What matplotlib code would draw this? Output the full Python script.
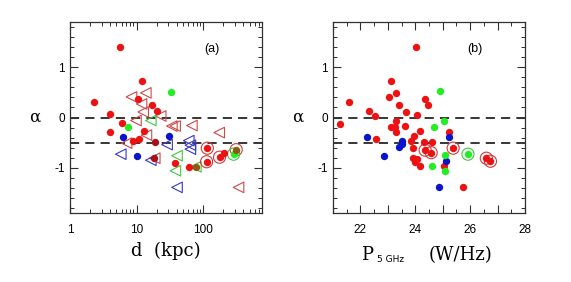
import matplotlib
matplotlib.use("Agg")
import matplotlib.pyplot as plt
from matplotlib.ticker import FixedLocator, MultipleLocator, LogLocator, NullFormatter, FuncFormatter

# ---------------- Panel (a): alpha vs d (kpc) ----------------
a_red_d = [5.6, 12.1, 2.29, 10.4, 16.8, 20.0, 3.98, 6.0, 4.0, 12.9, 8.9, 11.0, 38.4, 61.6, 116, 113, 177, 206]
a_red_alpha = [1.41, 0.73, 0.31, 0.36, 0.25, 0.12, 0.06, -0.11, -0.29, -0.27, -0.47, -0.43, -0.91, -0.98, -0.61, -0.88, -0.79, -0.71]
a_dark_d = [18.8, 18.3]
a_dark_alpha = [-0.49, -0.81]
a_olive_d = [79, 315]
a_olive_alpha = [-0.98, -0.64]
a_green_d = [7.5, 32.7, 288]
a_green_alpha = [-0.19, 0.51, -0.73]
a_blue_d = [6.2, 10.0, 30.5]
a_blue_alpha = [-0.38, -0.77, -0.37]
a_ringred_d = [116, 113, 177, 315]
a_ringred_alpha = [-0.61, -0.88, -0.79, -0.64]
a_ringgreen_d = [288]
a_ringgreen_alpha = [-0.73]
a_tri_red_d = [8.4, 13.8, 11.9, 12.6, 23.1, 9.8, 14.1, 7.1, 18.8, 34, 38, 68, 175, 342]
a_tri_red_alpha = [0.41, 0.49, 0.27, 0.11, 0.03, -0.06, -0.35, -0.51, -0.81, -0.17, -0.17, -0.16, -0.30, -1.39]
a_tri_blue_d = [5.8, 16.4, 28.8, 61, 64.5, 64.5, 40.6]
a_tri_blue_alpha = [-0.73, -0.85, -0.54, -0.46, -0.55, -0.63, -1.39]
a_tri_green_d = [16.4, 40.6, 38.4, 78]
a_tri_green_alpha = [-0.06, -0.76, -1.06, -0.98]

# ---------------- Panel (b): alpha vs log P5GHz ----------------
b_red_p = [24.02, 23.13, 23.31, 23.04, 24.36, 21.57, 24.45, 23.40, 22.31, 23.65, 22.52, 24.05, 21.27,
           23.28, 23.10, 23.26, 23.64, 23.31, 24.19, 22.55, 23.96, 23.84, 24.33, 24.61, 25.24, 23.90,
           24.36, 24.58, 25.38, 26.59, 26.74, 23.93, 24.05, 23.99, 24.19, 25.03, 25.73]
b_red_alpha = [1.41, 0.73, 0.49, 0.40, 0.37, 0.31, 0.24, 0.25, 0.12, 0.11, 0.02, 0.05, -0.13,
               -0.06, -0.19, -0.19, -0.17, -0.29, -0.27, -0.43, -0.37, -0.46, -0.48, -0.49, -0.29, -0.61,
               -0.65, -0.70, -0.61, -0.81, -0.87, -0.81, -0.83, -0.89, -0.96, -0.97, -1.39]
b_blue_p = [22.25, 22.85, 23.50, 23.50, 23.40, 25.24, 25.12, 24.85]
b_blue_alpha = [-0.38, -0.77, -0.46, -0.53, -0.59, -0.38, -0.86, -1.39]
b_green_p = [24.91, 25.03, 24.67, 25.10, 24.61, 25.07, 25.92]
b_green_alpha = [0.52, -0.06, -0.18, -0.74, -0.97, -1.06, -0.73]
b_ringred_p = [24.36, 24.58, 25.38, 26.59, 26.74]
b_ringred_alpha = [-0.65, -0.70, -0.61, -0.81, -0.87]
b_ringgreen_p = [25.92]
b_ringgreen_alpha = [-0.73]

RED = "#ee1111"
DARK = "#a8101c"
OLIVE = "#8c5a12"
GREEN = "#22ee22"
BLUE = "#0a14cc"
TRI_RED = "#d04848"
TRI_BLUE = "#3838c8"
TRI_GREEN = "#40c840"
RING_RED = "#d03a3a"
RING_GREEN = "#40c840"

S_DOT = 28
S_TRI = 58
S_RING = 76

plt.rcParams["font.family"] = ["Liberation Sans", "DejaVu Sans"]

fig = plt.figure(figsize=(5.71, 2.82), dpi=100)
axa = fig.add_axes([70/571, 1-213/282, 192/571, 191/282])
axb = fig.add_axes([333/571, 1-213/282, 192/571, 191/282])

def style(ax):
    for s in ax.spines.values():
        s.set_color("#303030")
        s.set_linewidth(0.9)
    ax.tick_params(which="both", direction="in", top=True, right=True, colors="#303030",
                   labelcolor="black", labelsize=8.5)
    ax.tick_params(which="major", length=5.5, width=0.8)
    ax.tick_params(which="minor", length=3, width=0.7)
    ax.set_ylim(-1.9, 1.9)
    ax.yaxis.set_major_locator(FixedLocator([-1, 0, 1]))
    ax.yaxis.set_minor_locator(MultipleLocator(0.2))
    ax.yaxis.set_major_formatter(FuncFormatter(lambda v, p: "%d" % v))
    for yv in (0, -0.5):
        ax.axhline(yv, color="black", lw=1.1, dashes=(6, 4), zorder=1)
    ax.set_ylabel("α", family="DejaVu Serif", fontsize=12, rotation=0, labelpad=14, va="center")

# Panel a
axa.set_xscale("log")
axa.set_xlim(1, 770)
style(axa)
axa.xaxis.set_major_locator(FixedLocator([1, 10, 100]))
axa.xaxis.set_minor_locator(LogLocator(base=10, subs=range(2, 10)))
axa.xaxis.set_minor_formatter(NullFormatter())
axa.xaxis.set_major_formatter(FuncFormatter(lambda v, p: "%d" % v))
axa.tick_params(axis="x", pad=8)

axa.scatter(a_tri_red_d, a_tri_red_alpha, marker="<", s=S_TRI, facecolors="none", edgecolors=TRI_RED, linewidths=0.8, zorder=2)
axa.scatter(a_tri_blue_d, a_tri_blue_alpha, marker="<", s=S_TRI, facecolors="none", edgecolors=TRI_BLUE, linewidths=0.8, zorder=2)
axa.scatter(a_tri_green_d, a_tri_green_alpha, marker="<", s=S_TRI, facecolors="none", edgecolors=TRI_GREEN, linewidths=0.8, zorder=2)
axa.scatter(a_ringred_d, a_ringred_alpha, marker="o", s=S_RING, facecolors="none", edgecolors=RING_RED, linewidths=0.8, zorder=3)
axa.scatter(a_ringgreen_d, a_ringgreen_alpha, marker="o", s=S_RING, facecolors="none", edgecolors=RING_GREEN, linewidths=0.8, zorder=3)
axa.scatter(a_red_d, a_red_alpha, marker="o", s=S_DOT, color=RED, linewidths=0, zorder=4)
axa.scatter(a_dark_d, a_dark_alpha, marker="o", s=S_DOT, color=DARK, linewidths=0, zorder=4)
axa.scatter(a_blue_d, a_blue_alpha, marker="o", s=S_DOT, color=BLUE, linewidths=0, zorder=4)
axa.scatter(a_green_d, a_green_alpha, marker="o", s=S_DOT, color=GREEN, linewidths=0, zorder=4)
axa.scatter(a_olive_d, a_olive_alpha, marker="o", s=S_DOT, color=OLIVE, linewidths=0, zorder=5)
axa.text(0.74, 0.86, "(a)", transform=axa.transAxes, fontsize=9, ha="center", va="center")
axa.set_xlabel("d  (kpc)", family="DejaVu Serif", fontsize=13, labelpad=4)

# Panel b
axb.set_xlim(21, 28)
style(axb)
axb.xaxis.set_major_locator(MultipleLocator(1))
axb.xaxis.set_minor_locator(MultipleLocator(0.5))
axb.xaxis.set_major_formatter(FuncFormatter(lambda v, p: "%d" % v if int(round(v)) % 2 == 0 else ""))
axb.tick_params(axis="x", pad=8)

axb.scatter(b_ringred_p, b_ringred_alpha, marker="o", s=S_RING, facecolors="none", edgecolors=RING_RED, linewidths=0.8, zorder=3)
axb.scatter(b_ringgreen_p, b_ringgreen_alpha, marker="o", s=S_RING, facecolors="none", edgecolors=RING_GREEN, linewidths=0.8, zorder=3)
axb.scatter(b_red_p, b_red_alpha, marker="o", s=S_DOT, color=RED, linewidths=0, zorder=4)
axb.scatter(b_blue_p, b_blue_alpha, marker="o", s=S_DOT, color=BLUE, linewidths=0, zorder=4)
axb.scatter(b_green_p, b_green_alpha, marker="o", s=S_DOT, color=GREEN, linewidths=0, zorder=4)
axb.text(0.74, 0.86, "(b)", transform=axb.transAxes, fontsize=9, ha="center", va="center")

# x label of panel b: P_{5 GHz} (W/Hz)
fig.text(361/571, 1-255/282, "P", family="DejaVu Serif", fontsize=13, ha="left", va="center")
fig.text(377/571, 1-260/282, "5 GHz", family="DejaVu Sans", fontsize=6.5, ha="left", va="center")
fig.text(429/571, 1-255/282, "(W/Hz)", family="DejaVu Serif", fontsize=13, ha="left", va="center")

fig.savefig("out.png", dpi=100)
